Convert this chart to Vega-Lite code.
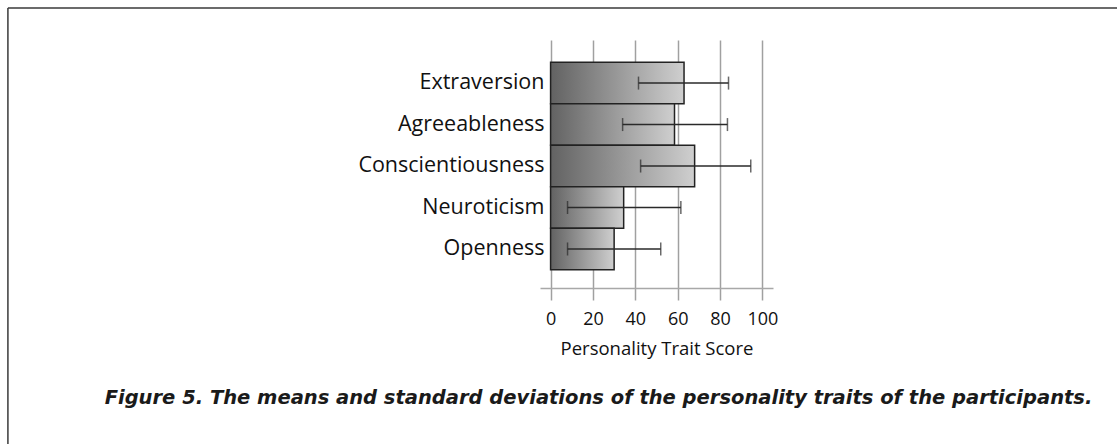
{
  "$schema": "https://vega.github.io/schema/vega-lite/v6.json",
  "autosize": "none",
  "width": 233,
  "height": 248,
  "padding": {"left": 540, "top": 40, "right": 344, "bottom": 156},
  "background": "white",
  "config": {
    "view": {"stroke": null},
    "font": "Open Sans"
  },
  "title": {
    "text": "Figure 5. The means and standard deviations of the personality traits of the participants.",
    "orient": "bottom",
    "anchor": "middle",
    "frame": "group",
    "dx": -58,
    "offset": -56,
    "font": "DejaVu Sans",
    "fontSize": 19.5,
    "fontWeight": "bold",
    "fontStyle": "italic",
    "color": "#1a1a1a",
    "limit": 1100
  },
  "layer": [
    {
      "data": {
        "values": [
          {"trait": "Extraversion", "mean": 63, "lower": 41.5, "upper": 84},
          {"trait": "Agreeableness", "mean": 58.5, "lower": 34, "upper": 83.5},
          {"trait": "Conscientiousness", "mean": 68, "lower": 42.5, "upper": 94.5},
          {"trait": "Neuroticism", "mean": 34.5, "lower": 8, "upper": 61.5},
          {"trait": "Openness", "mean": 30, "lower": 8, "upper": 52}
        ]
      },
      "encoding": {
        "y": {
          "field": "trait",
          "type": "nominal",
          "sort": null,
          "scale": {"paddingInner": 0, "paddingOuter": 0.49, "align": 0.55},
          "axis": {
            "title": null,
            "domain": false,
            "ticks": false,
            "tickSize": 0,
            "labelPadding": -4,
            "labelLimit": 400,
            "labelFont": "Open Sans",
            "labelFontSize": 21.5,
            "labelColor": "#111111"
          }
        }
      },
      "layer": [
        {
          "mark": {
            "type": "bar",
            "stroke": "#222222",
            "strokeWidth": 1.5,
            "color": {
              "gradient": "linear",
              "x1": 0, "y1": 0, "x2": 1, "y2": 0,
              "stops": [
                {"offset": 0, "color": "#626262"},
                {"offset": 1, "color": "#cfcfcf"}
              ]
            }
          },
          "encoding": {
            "x": {
              "field": "mean",
              "type": "quantitative",
              "scale": {"domain": [-5, 105], "nice": false, "zero": false},
              "axis": {
                "values": [0, 20, 40, 60, 80, 100],
                "grid": true,
                "gridColor": "#a0a0a0",
                "gridWidth": 1.5,
                "gridOpacity": 1,
                "domainColor": "#a8a8a8",
                "domainWidth": 1.5,
                "tickColor": "#a0a0a0",
                "tickWidth": 1.5,
                "tickSize": 12,
                "labelFont": "Open Sans",
                "labelFontSize": 18,
                "labelColor": "#111111",
                "labelPadding": 10,
                "title": "Personality Trait Score",
                "titleFont": "Open Sans",
                "titleFontSize": 18.5,
                "titleFontWeight": "normal",
                "titleColor": "#111111",
                "titlePadding": 11
              }
            }
          }
        },
        {
          "mark": {"type": "rule", "color": "#2a2a2a", "strokeWidth": 1.5},
          "encoding": {
            "x": {"field": "lower", "type": "quantitative"},
            "x2": {"field": "upper"}
          }
        },
        {
          "mark": {"type": "tick", "color": "#2a2a2a", "thickness": 1.5, "size": 13},
          "encoding": {
            "x": {"field": "lower", "type": "quantitative"}
          }
        },
        {
          "mark": {"type": "tick", "color": "#2a2a2a", "thickness": 1.5, "size": 13},
          "encoding": {
            "x": {"field": "upper", "type": "quantitative"}
          }
        }
      ]
    },
    {
      "data": {"values": [{}]},
      "mark": {"type": "rule", "color": "#3a3a3a", "strokeWidth": 1.5},
      "encoding": {
        "x": {"datum": -256.2, "type": "quantitative"},
        "x2": {"datum": 300},
        "y": {"datum": 280, "type": "quantitative", "scale": {"domain": [0, 248], "nice": false, "zero": false}, "axis": null}
      }
    },
    {
      "data": {"values": [{}]},
      "mark": {"type": "rule", "color": "#3a3a3a", "strokeWidth": 1.5},
      "encoding": {
        "x": {"datum": -256.2, "type": "quantitative"},
        "y": {"datum": 280, "type": "quantitative", "scale": {"domain": [0, 248], "nice": false, "zero": false}, "axis": null},
        "y2": {"datum": -156}
      }
    }
  ],
  "resolve": {"scale": {"y": "independent"}}
}
